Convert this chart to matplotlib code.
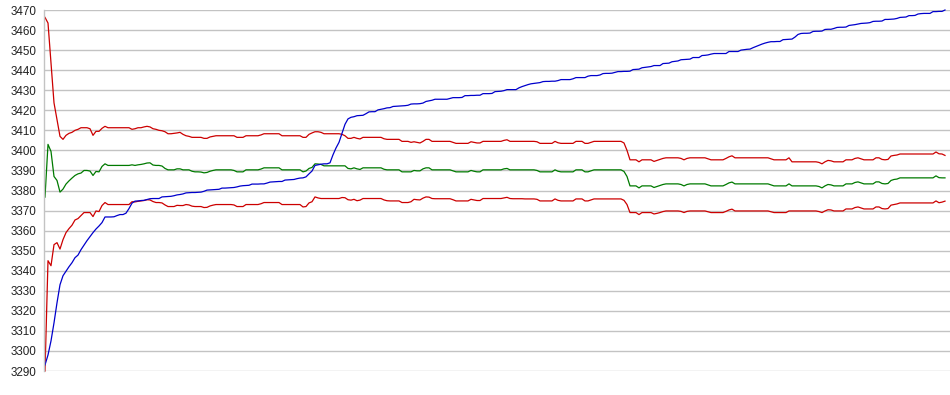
import numpy as np
import matplotlib
matplotlib.use("Agg")
import matplotlib.pyplot as plt

upper = [
    3466.3, 3463.5, 3443.3, 3423.7, 3415.5, 3407.0, 3405.5, 3407.5, 3408.5, 3409.0,
    3410.0, 3410.5, 3411.3, 3411.3, 3411.3, 3410.8, 3407.5, 3409.5, 3409.5, 3411.0,
    3412.0, 3411.3, 3411.3, 3411.3, 3411.3, 3411.3, 3411.3, 3411.3, 3411.3, 3410.5,
    3410.8, 3411.3, 3411.3, 3411.7, 3412.0, 3411.7, 3410.8, 3410.5, 3410.0, 3409.8,
    3409.3, 3408.3, 3408.3, 3408.5, 3408.7, 3409.0, 3408.0, 3407.3, 3407.0, 3406.5,
    3406.5, 3406.5, 3406.5, 3406.0, 3406.0, 3406.7, 3407.0, 3407.3, 3407.3, 3407.3,
    3407.3, 3407.3, 3407.3, 3407.3, 3406.5, 3406.5, 3406.5, 3407.3, 3407.3, 3407.3,
    3407.3, 3407.3, 3407.7, 3408.3, 3408.3, 3408.3, 3408.3, 3408.3, 3408.3, 3407.3,
    3407.3, 3407.3, 3407.3, 3407.3, 3407.3, 3407.3, 3406.5, 3406.5, 3408.0, 3408.7,
    3409.3, 3409.3, 3409.0, 3408.3, 3408.3, 3408.3, 3408.3, 3408.3, 3408.3, 3408.0,
    3407.3, 3406.0, 3406.0, 3406.5, 3406.0, 3405.7, 3406.5, 3406.5, 3406.5, 3406.5,
    3406.5, 3406.5, 3406.5, 3405.8, 3405.5, 3405.5, 3405.5, 3405.5, 3405.5, 3404.5,
    3404.5, 3404.5, 3404.0, 3404.3, 3404.0, 3403.7, 3404.5, 3405.5, 3405.5, 3404.5,
    3404.5, 3404.5, 3404.5, 3404.5, 3404.5, 3404.5, 3404.0, 3403.5, 3403.5, 3403.5,
    3403.5, 3403.5, 3404.3, 3404.0, 3403.7, 3403.7, 3404.5, 3404.5, 3404.5, 3404.5,
    3404.5, 3404.5, 3404.5, 3405.0, 3405.3, 3404.5, 3404.5, 3404.5, 3404.5, 3404.5,
    3404.5, 3404.5, 3404.5, 3404.5, 3404.3, 3403.5, 3403.5, 3403.5, 3403.5, 3403.5,
    3404.5, 3403.8, 3403.5, 3403.5, 3403.5, 3403.5, 3403.5, 3404.5, 3404.5, 3404.5,
    3403.5, 3403.5, 3404.0, 3404.5, 3404.5, 3404.5, 3404.5, 3404.5, 3404.5, 3404.5,
    3404.5, 3404.5, 3404.5, 3403.7, 3400.0, 3395.3, 3395.3, 3395.3, 3394.3, 3395.3,
    3395.3, 3395.3, 3395.3, 3394.5, 3395.0, 3395.5, 3396.0, 3396.3, 3396.3, 3396.3,
    3396.3, 3396.3, 3396.0, 3395.3, 3396.0, 3396.3, 3396.3, 3396.3, 3396.3, 3396.3,
    3396.3, 3395.8, 3395.3, 3395.3, 3395.3, 3395.3, 3395.3, 3396.0, 3396.8, 3397.3,
    3396.3, 3396.3, 3396.3, 3396.3, 3396.3, 3396.3, 3396.3, 3396.3, 3396.3, 3396.3,
    3396.3, 3396.3, 3395.8, 3395.3, 3395.3, 3395.3, 3395.3, 3395.3, 3396.3, 3394.3,
    3394.3, 3394.3, 3394.3, 3394.3, 3394.3, 3394.3, 3394.3, 3394.3, 3394.0, 3393.3,
    3394.3, 3395.0, 3394.8, 3394.3, 3394.3, 3394.3, 3394.3, 3395.3, 3395.3, 3395.3,
    3396.0, 3396.3, 3395.8, 3395.3, 3395.3, 3395.3, 3395.3, 3396.3, 3396.3, 3395.5,
    3395.3, 3395.5, 3397.2, 3397.5, 3397.7, 3398.2, 3398.2, 3398.2, 3398.2, 3398.2,
    3398.2, 3398.2, 3398.2, 3398.2, 3398.2, 3398.2, 3398.2, 3399.2, 3398.3, 3398.2,
    3397.5,
]

middle = [
    3376.7, 3403.0, 3399.5, 3387.0, 3385.0, 3379.2, 3380.7, 3383.2, 3384.8, 3386.2,
    3387.5, 3388.3, 3388.7, 3390.0, 3390.0, 3389.7, 3387.5, 3389.5, 3389.3, 3392.0,
    3393.3, 3392.5, 3392.5, 3392.5, 3392.5, 3392.5, 3392.5, 3392.5, 3392.5, 3392.8,
    3392.5, 3392.8, 3393.0, 3393.3, 3393.7, 3393.8, 3392.7, 3392.5, 3392.5, 3392.2,
    3391.0, 3390.3, 3390.3, 3390.3, 3390.8, 3390.8, 3390.3, 3390.3, 3390.3, 3389.6,
    3389.3, 3389.3, 3389.2, 3388.8, 3389.0, 3389.6, 3390.0, 3390.3, 3390.3, 3390.3,
    3390.3, 3390.3, 3390.3, 3390.0, 3389.3, 3389.3, 3389.3, 3390.3, 3390.3, 3390.3,
    3390.3, 3390.3, 3390.7, 3391.3, 3391.3, 3391.3, 3391.3, 3391.3, 3391.3, 3390.3,
    3390.3, 3390.3, 3390.3, 3390.3, 3390.3, 3390.3, 3389.3, 3389.7, 3391.0, 3391.5,
    3393.3, 3393.2, 3393.0, 3392.3, 3392.3, 3392.3, 3392.3, 3392.3, 3392.3, 3392.3,
    3392.3, 3391.0, 3390.8, 3391.3, 3390.8, 3390.5, 3391.3, 3391.3, 3391.3, 3391.3,
    3391.3, 3391.3, 3391.3, 3390.6, 3390.3, 3390.3, 3390.3, 3390.3, 3390.3, 3389.3,
    3389.3, 3389.3, 3389.3, 3390.0, 3389.8, 3389.8, 3390.8, 3391.3, 3391.3, 3390.3,
    3390.3, 3390.3, 3390.3, 3390.3, 3390.3, 3390.3, 3389.8, 3389.3, 3389.3, 3389.3,
    3389.3, 3389.3, 3390.0, 3389.6, 3389.3, 3389.3, 3390.3, 3390.3, 3390.3, 3390.3,
    3390.3, 3390.3, 3390.3, 3390.8, 3391.0, 3390.3, 3390.3, 3390.3, 3390.3, 3390.3,
    3390.3, 3390.3, 3390.3, 3390.3, 3390.0, 3389.3, 3389.3, 3389.3, 3389.3, 3389.3,
    3390.3, 3389.6, 3389.3, 3389.3, 3389.3, 3389.3, 3389.3, 3390.3, 3390.3, 3390.3,
    3389.3, 3389.3, 3389.8, 3390.3, 3390.3, 3390.3, 3390.3, 3390.3, 3390.3, 3390.3,
    3390.3, 3390.3, 3390.3, 3389.5, 3387.0, 3382.3, 3382.3, 3382.3, 3381.3, 3382.3,
    3382.3, 3382.3, 3382.3, 3381.5, 3382.0, 3382.5, 3383.0, 3383.3, 3383.3, 3383.3,
    3383.3, 3383.3, 3383.0, 3382.3, 3383.0, 3383.3, 3383.3, 3383.3, 3383.3, 3383.3,
    3383.3, 3382.8, 3382.3, 3382.3, 3382.3, 3382.3, 3382.3, 3383.0, 3383.8, 3384.2,
    3383.3, 3383.3, 3383.3, 3383.3, 3383.3, 3383.3, 3383.3, 3383.3, 3383.3, 3383.3,
    3383.3, 3383.3, 3382.8, 3382.3, 3382.3, 3382.3, 3382.3, 3382.3, 3383.3, 3382.3,
    3382.3, 3382.3, 3382.3, 3382.3, 3382.3, 3382.3, 3382.3, 3382.3, 3382.0, 3381.3,
    3382.3, 3383.0, 3382.8, 3382.3, 3382.3, 3382.3, 3382.3, 3383.3, 3383.3, 3383.3,
    3384.0, 3384.3, 3383.8, 3383.3, 3383.3, 3383.3, 3383.3, 3384.3, 3384.3, 3383.5,
    3383.3, 3383.5, 3385.0, 3385.5, 3385.7, 3386.3, 3386.3, 3386.3, 3386.3, 3386.3,
    3386.3, 3386.3, 3386.3, 3386.3, 3386.3, 3386.3, 3386.3, 3387.3, 3386.4, 3386.3,
    3386.3,
]

lower = [
    3290.0, 3345.0, 3342.5, 3353.0, 3354.0, 3350.8, 3355.5, 3359.0, 3361.0, 3362.7,
    3365.3, 3366.0, 3367.5, 3369.0, 3369.0, 3369.0, 3367.0, 3369.8, 3369.5, 3372.5,
    3374.0, 3373.0, 3373.0, 3373.0, 3373.0, 3373.0, 3373.0, 3373.0, 3373.0, 3374.4,
    3374.3, 3374.6, 3374.8, 3375.0, 3375.4, 3375.3, 3374.5, 3374.0, 3374.0, 3373.8,
    3372.8, 3372.0, 3372.0, 3372.0, 3372.6, 3372.5, 3372.5, 3373.0, 3372.8, 3372.2,
    3372.0, 3372.0, 3372.0, 3371.5, 3371.6, 3372.3, 3372.7, 3373.0, 3373.0, 3373.0,
    3373.0, 3373.0, 3373.0, 3372.8, 3372.0, 3372.0, 3372.0, 3373.0, 3373.0, 3373.0,
    3373.0, 3373.0, 3373.4, 3374.0, 3374.0, 3374.0, 3374.0, 3374.0, 3374.0, 3373.0,
    3373.0, 3373.0, 3373.0, 3373.0, 3373.0, 3373.0, 3371.8, 3372.0, 3373.8, 3374.4,
    3376.8, 3376.3, 3376.0, 3376.0, 3376.0, 3376.0, 3376.0, 3376.0, 3376.0, 3376.5,
    3376.4, 3375.4, 3375.2, 3375.6, 3374.9, 3375.2, 3376.0, 3376.0, 3376.0, 3376.0,
    3376.0, 3376.0, 3376.0, 3375.3, 3374.9, 3374.8, 3374.8, 3374.8, 3374.8, 3374.0,
    3374.0, 3374.0, 3374.4, 3375.6, 3375.4, 3375.3, 3376.2, 3376.8, 3376.7, 3376.0,
    3375.9, 3375.9, 3375.9, 3375.9, 3375.9, 3375.9, 3375.4, 3374.8, 3374.8, 3374.8,
    3374.8, 3374.8, 3375.6, 3375.3, 3375.0, 3375.0, 3376.0, 3376.0, 3376.0, 3376.0,
    3376.0, 3376.0, 3376.0, 3376.3, 3376.6, 3376.0, 3375.9, 3375.9, 3375.9, 3375.9,
    3375.8, 3375.8, 3375.8, 3375.8, 3375.6, 3374.8, 3374.8, 3374.8, 3374.8, 3374.8,
    3375.8, 3375.1, 3374.8, 3374.8, 3374.8, 3374.8, 3374.8, 3375.8, 3375.8, 3375.8,
    3374.8, 3374.8, 3375.3, 3375.8, 3375.8, 3375.8, 3375.8, 3375.8, 3375.8, 3375.8,
    3375.8, 3375.8, 3375.8, 3375.1, 3373.0, 3369.0, 3369.0, 3369.0, 3368.0, 3369.0,
    3369.0, 3369.0, 3369.0, 3368.3, 3368.6, 3369.0, 3369.5, 3369.8, 3369.8, 3369.8,
    3369.8, 3369.8, 3369.6, 3369.0, 3369.6, 3369.8, 3369.8, 3369.8, 3369.8, 3369.8,
    3369.8, 3369.4, 3369.0, 3369.0, 3369.0, 3369.0, 3369.0, 3369.6, 3370.3, 3370.7,
    3369.8, 3369.8, 3369.8, 3369.8, 3369.8, 3369.8, 3369.8, 3369.8, 3369.8, 3369.8,
    3369.8, 3369.8, 3369.4, 3369.0, 3369.0, 3369.0, 3369.0, 3369.0, 3369.8, 3369.8,
    3369.8, 3369.8, 3369.8, 3369.8, 3369.8, 3369.8, 3369.8, 3369.8, 3369.5, 3369.0,
    3369.8, 3370.4, 3370.3, 3369.8, 3369.8, 3369.8, 3369.8, 3370.8, 3370.8, 3370.8,
    3371.5, 3371.8, 3371.3, 3370.8, 3370.8, 3370.8, 3370.8, 3371.8, 3371.8, 3371.0,
    3370.8, 3371.0, 3372.7, 3373.0, 3373.3, 3373.8, 3373.8, 3373.8, 3373.8, 3373.8,
    3373.8, 3373.8, 3373.8, 3373.8, 3373.8, 3373.8, 3373.8, 3374.8, 3373.9, 3374.2,
    3374.7,
]

price = [
    3293.0, 3298.0, 3305.0, 3314.0, 3324.0, 3333.0, 3337.5, 3339.8, 3342.0, 3344.0,
    3346.5, 3347.8, 3350.5, 3352.8, 3355.0, 3357.0, 3359.0, 3360.8, 3362.3, 3364.0,
    3366.8, 3366.8, 3366.8, 3366.9, 3367.5, 3368.0, 3368.0, 3368.7, 3371.0, 3373.7,
    3374.7, 3374.8, 3375.0, 3375.1, 3375.5, 3375.9, 3376.0, 3376.0, 3376.0, 3376.8,
    3376.9, 3377.0, 3377.1, 3377.4, 3377.8, 3378.0, 3378.3, 3378.8, 3378.9, 3379.0,
    3379.0, 3379.1, 3379.2, 3379.6, 3380.2, 3380.3, 3380.4, 3380.5, 3380.6, 3381.2,
    3381.2, 3381.3, 3381.4, 3381.5, 3381.8, 3382.2, 3382.4, 3382.5, 3382.6, 3383.2,
    3383.2, 3383.2, 3383.3, 3383.3, 3383.7, 3384.2, 3384.3, 3384.4, 3384.5, 3384.5,
    3385.2, 3385.3, 3385.4, 3385.5, 3385.9, 3386.2, 3386.3, 3386.8, 3388.3, 3389.7,
    3392.5, 3392.8, 3393.1, 3393.3, 3393.3, 3393.8, 3397.8, 3401.2, 3404.0, 3408.5,
    3413.0, 3415.7, 3416.5, 3416.8, 3417.3, 3417.4, 3417.5, 3418.3, 3419.2, 3419.3,
    3419.3, 3420.2, 3420.5, 3420.8, 3421.2, 3421.3, 3421.9, 3422.0, 3422.1, 3422.2,
    3422.3, 3422.5, 3423.1, 3423.2, 3423.2, 3423.3, 3423.6, 3424.4, 3424.7, 3425.0,
    3425.5, 3425.5, 3425.5, 3425.5, 3425.5, 3425.9, 3426.3, 3426.3, 3426.3, 3426.4,
    3427.3, 3427.3, 3427.4, 3427.4, 3427.5, 3427.5, 3428.3, 3428.3, 3428.3, 3428.4,
    3429.3, 3429.4, 3429.5, 3429.8, 3430.3, 3430.3, 3430.3, 3430.3, 3431.2, 3431.8,
    3432.3, 3432.8, 3433.2, 3433.4, 3433.6, 3433.8, 3434.3, 3434.4, 3434.4, 3434.5,
    3434.5, 3434.8, 3435.3, 3435.3, 3435.3, 3435.3, 3435.7, 3436.3, 3436.3, 3436.3,
    3436.3, 3437.0, 3437.3, 3437.3, 3437.3, 3437.6, 3438.3, 3438.4, 3438.4, 3438.5,
    3438.9, 3439.3, 3439.3, 3439.4, 3439.4, 3439.5, 3440.3, 3440.4, 3440.5, 3441.2,
    3441.4, 3441.6, 3441.8, 3442.3, 3442.3, 3442.3, 3443.3, 3443.4, 3443.5, 3444.2,
    3444.4, 3444.6, 3445.2, 3445.3, 3445.4, 3445.5, 3446.3, 3446.3, 3446.3, 3447.3,
    3447.4, 3447.6, 3448.0, 3448.3, 3448.3, 3448.3, 3448.3, 3448.3, 3449.3, 3449.3,
    3449.3, 3449.3, 3450.0, 3450.2, 3450.4, 3450.5, 3451.2, 3451.8, 3452.4, 3453.0,
    3453.5, 3453.9, 3454.2, 3454.2, 3454.3, 3454.3, 3455.2, 3455.3, 3455.4, 3455.5,
    3456.5, 3457.8, 3458.3, 3458.4, 3458.4, 3458.5, 3459.3, 3459.4, 3459.4, 3459.5,
    3460.3, 3460.4, 3460.4, 3460.8, 3461.3, 3461.4, 3461.4, 3461.5, 3462.3, 3462.5,
    3462.7, 3463.0, 3463.3, 3463.4, 3463.5, 3463.7, 3464.3, 3464.4, 3464.4, 3464.5,
    3465.3, 3465.3, 3465.4, 3465.5, 3465.8, 3466.3, 3466.4, 3466.5, 3467.2, 3467.2,
    3467.3, 3468.0, 3468.2, 3468.3, 3468.3, 3468.3, 3469.2, 3469.2, 3469.3, 3469.3,
    3470.0,
]

y_ticks = [3290, 3300, 3310, 3320, 3330, 3340, 3350, 3360, 3370, 3380,
           3390, 3400, 3410, 3420, 3430, 3440, 3450, 3460, 3470]

x = np.arange(len(price))

fig = plt.figure(figsize=(9.5, 3.95), dpi=100)
ax = fig.add_axes([44 / 950, 24 / 395, 906 / 950, 361 / 395])

grid_c = "#c3c3c3"
ax.set_ylim(y_ticks[0], y_ticks[-1])
ax.set_xlim(-1 / 3, 301.67)
ax.set_yticks(y_ticks)
ax.set_yticklabels([str(t) for t in y_ticks])
ax.set_xticks([])
ax.yaxis.grid(True, color=grid_c, linewidth=1.0)
ax.set_axisbelow(True)
for s in ["top", "right", "bottom"]:
    ax.spines[s].set_visible(False)
ax.spines["left"].set_color(grid_c)
ax.spines["left"].set_linewidth(1.0)
ax.tick_params(axis="y", length=0, pad=5.5, labelsize=8.4, labelcolor="#222222")
for lab in ax.get_yticklabels():
    lab.set_fontfamily("Liberation Sans")

ax.plot(x, upper, color="#cc0000", linewidth=0.9, clip_on=False)
ax.plot(x, lower, color="#cc0000", linewidth=0.9, clip_on=False)
ax.plot(x, middle, color="#007a00", linewidth=0.9, clip_on=False)
ax.plot(x, price, color="#0000cc", linewidth=0.9, clip_on=False)

fig.savefig("out.png", dpi=100)
